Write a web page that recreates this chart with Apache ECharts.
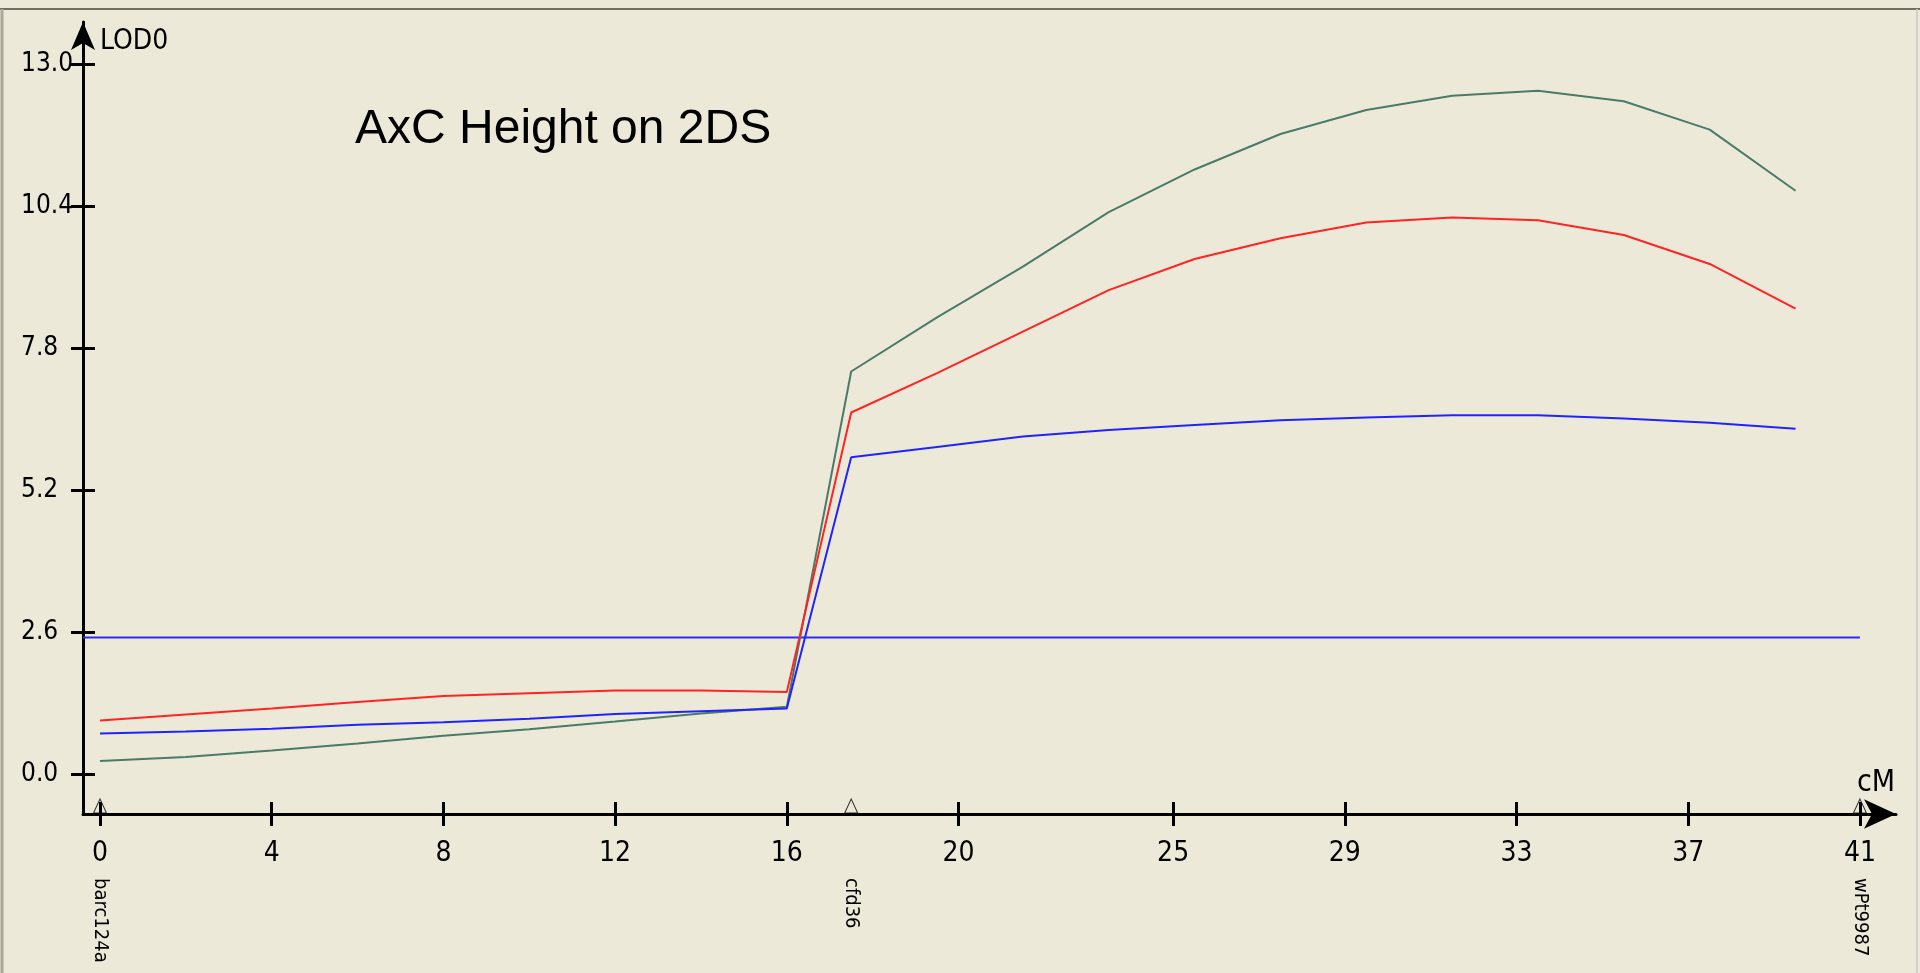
<!DOCTYPE html>
<html>
<head>
<meta charset="utf-8">
<title>AxC Height on 2DS</title>
<script src="https://cdn.jsdelivr.net/npm/echarts@6/dist/echarts.min.js"></script>
<style>
  html, body { margin: 0; padding: 0; background: #ECE9D8; }
  #chart { width: 1920px; height: 973px; }
</style>
</head>
<body>
<div id="chart"></div>
<script>
// ---- data ----
const positions = [0, 2, 4, 6, 8, 10, 12, 14, 16, 17.5, 19.5, 21.5, 23.5, 25.5, 27.5, 29.5, 31.5, 33.5, 35.5, 37.5, 39.5];
const lodGreen = [0.24, 0.31, 0.43, 0.56, 0.70, 0.82, 0.96, 1.11, 1.23, 7.37, 8.36, 9.29, 10.29, 11.07, 11.72, 12.16, 12.42, 12.51, 12.32, 11.80, 10.68];
const lodRed   = [0.98, 1.09, 1.20, 1.32, 1.43, 1.48, 1.53, 1.53, 1.50, 6.62, 7.34, 8.10, 8.86, 9.43, 9.81, 10.10, 10.19, 10.14, 9.87, 9.34, 8.52];
const lodBlue  = [0.74, 0.78, 0.83, 0.90, 0.95, 1.01, 1.10, 1.15, 1.20, 5.80, 5.99, 6.18, 6.30, 6.39, 6.48, 6.53, 6.57, 6.57, 6.51, 6.43, 6.32];
const threshold = 2.5;
const thresholdEnd = 41;
const xTicks = [0, 4, 8, 12, 16, 20, 25, 29, 33, 37, 41];
const yTicks = [0, 2.6, 5.2, 7.8, 10.4, 13.0];
const markerPos = [0, 17.5, 41];
const markerNames = ['barc124a', 'cfd36', 'wPt9987'];
const chartTitle = 'AxC Height on 2DS';
const yName = 'LOD0';
const xName = 'cM';

// ---- axis extents ----
const X_MIN = -0.396, X_MAX = 41.84;
const Y_MIN = -0.732, Y_MAX = 13.77;

const NARROW = "'Liberation Sans Narrow', 'Arial Narrow', 'DejaVu Sans Condensed', sans-serif";
const AXIS_COLOR = '#000';

const zip = (xs, ys) => xs.map((x, i) => [x, ys[i]]);

const chart = echarts.init(document.getElementById('chart'), null, { renderer: 'canvas' });

const baseX = {
  type: 'value', min: X_MIN, max: X_MAX, position: 'bottom', offset: 0,
  splitLine: { show: false }, minorTick: { show: false }
};
const baseY = {
  type: 'value', min: Y_MIN, max: Y_MAX, position: 'left', offset: 0,
  splitLine: { show: false }, minorTick: { show: false }
};

const option = {
  backgroundColor: '#ECE9D8',
  animation: false,
  title: {
    text: chartTitle, left: 355, top: 106, padding: 0,
    textStyle: { fontFamily: "'Liberation Sans', Arial, sans-serif", fontSize: 48, fontWeight: 'normal', color: '#000' }
  },
  grid: { left: 83, right: 24, top: 22, bottom: 159, containLabel: false, outerBoundsMode: 'none', show: false },
  xAxis: [
    Object.assign({}, baseX, {
      axisLine: { show: true, onZero: false, lineStyle: { color: AXIS_COLOR, width: 3 }, symbol: ['none', 'arrow'], symbolSize: [22, 32] },
      axisTick: { show: true, customValues: xTicks, length: 12, lineStyle: { color: AXIS_COLOR, width: 3 } },
      axisLabel: { show: true, customValues: xTicks, margin: 26, fontSize: 28, color: '#000', fontFamily: NARROW },
      name: xName, nameLocation: 'end', nameGap: -20,
      nameTextStyle: { fontSize: 30, color: '#000', fontFamily: NARROW, align: 'center', verticalAlign: 'bottom', padding: [0, 0, 16, 0] }
    }),
    Object.assign({}, baseX, {
      axisLine: { show: false, onZero: false },
      axisTick: { show: true, inside: true, customValues: xTicks, length: 12, lineStyle: { color: AXIS_COLOR, width: 3 } },
      axisLabel: { show: false }
    }),
    Object.assign({}, baseX, {
      axisLine: { show: false, onZero: false },
      axisTick: { show: false },
      axisLabel: {
        show: true, customValues: markerPos, rotate: -90, margin: 64, fontSize: 20, color: '#000', fontFamily: NARROW,
        formatter: v => markerNames[markerPos.indexOf(v)] || ''
      }
    })
  ],
  yAxis: [
    Object.assign({}, baseY, {
      axisLine: { show: true, onZero: false, lineStyle: { color: AXIS_COLOR, width: 3 }, symbol: ['none', 'arrow'], symbolSize: [18, 28] },
      axisTick: { show: true, customValues: yTicks, length: 12, lineStyle: { color: AXIS_COLOR, width: 3 } },
      axisLabel: { show: true, customValues: yTicks, align: 'left', margin: 62, fontSize: 26, color: '#000', fontFamily: NARROW,
        formatter: v => Number(v).toFixed(1) },
      name: yName, nameLocation: 'end', nameGap: -20,
      nameTextStyle: { fontSize: 28, color: '#000', fontFamily: NARROW, align: 'left', verticalAlign: 'middle', padding: [0, 0, 0, 17] }
    }),
    Object.assign({}, baseY, {
      axisLine: { show: false, onZero: false },
      axisTick: { show: true, inside: true, customValues: yTicks, length: 12, lineStyle: { color: AXIS_COLOR, width: 3 } },
      axisLabel: { show: false }
    })
  ],
  graphic: [
    { type: 'line', shape: { x1: 0, y1: 9, x2: 1920, y2: 9 }, style: { stroke: '#716F64', lineWidth: 2 }, silent: true },
    { type: 'line', shape: { x1: 2, y1: 9, x2: 2, y2: 973 }, style: { stroke: '#ACA899', lineWidth: 3 }, silent: true },
    { type: 'line', shape: { x1: 1917, y1: 9, x2: 1917, y2: 973 }, style: { stroke: '#D4D0C8', lineWidth: 2 }, silent: true }
  ],
  series: [
    {
      name: 'Threshold', type: 'line', xAxisIndex: 0, yAxisIndex: 0,
      data: [[X_MIN, threshold], [thresholdEnd, threshold]],
      showSymbol: false, lineStyle: { color: '#2B2BFF', width: 2 }, silent: true, z: 3
    },
    {
      name: 'LOD green', type: 'line', xAxisIndex: 0, yAxisIndex: 0,
      data: zip(positions, lodGreen),
      showSymbol: false, smooth: false, lineStyle: { color: '#4A7B69', width: 2 }, silent: true, z: 4
    },
    {
      name: 'LOD red', type: 'line', xAxisIndex: 0, yAxisIndex: 0,
      data: zip(positions, lodRed),
      showSymbol: false, smooth: false, lineStyle: { color: '#FF2424', width: 2 }, silent: true, z: 4
    },
    {
      name: 'LOD blue', type: 'line', xAxisIndex: 0, yAxisIndex: 0,
      data: zip(positions, lodBlue),
      showSymbol: false, smooth: false, lineStyle: { color: '#2222FF', width: 2 }, silent: true, z: 5
    },
    {
      name: 'Markers', type: 'scatter', xAxisIndex: 0, yAxisIndex: 0,
      data: markerPos.map(p => [p, Y_MIN]),
      symbol: 'triangle', symbolSize: [13, 14], symbolOffset: [0, -8],
      itemStyle: { color: 'rgba(0,0,0,0)', borderColor: '#000', borderWidth: 1 },
      clip: false, silent: true, z: 6
    }
  ]
};

chart.setOption(option);
</script>
</body>
</html>
